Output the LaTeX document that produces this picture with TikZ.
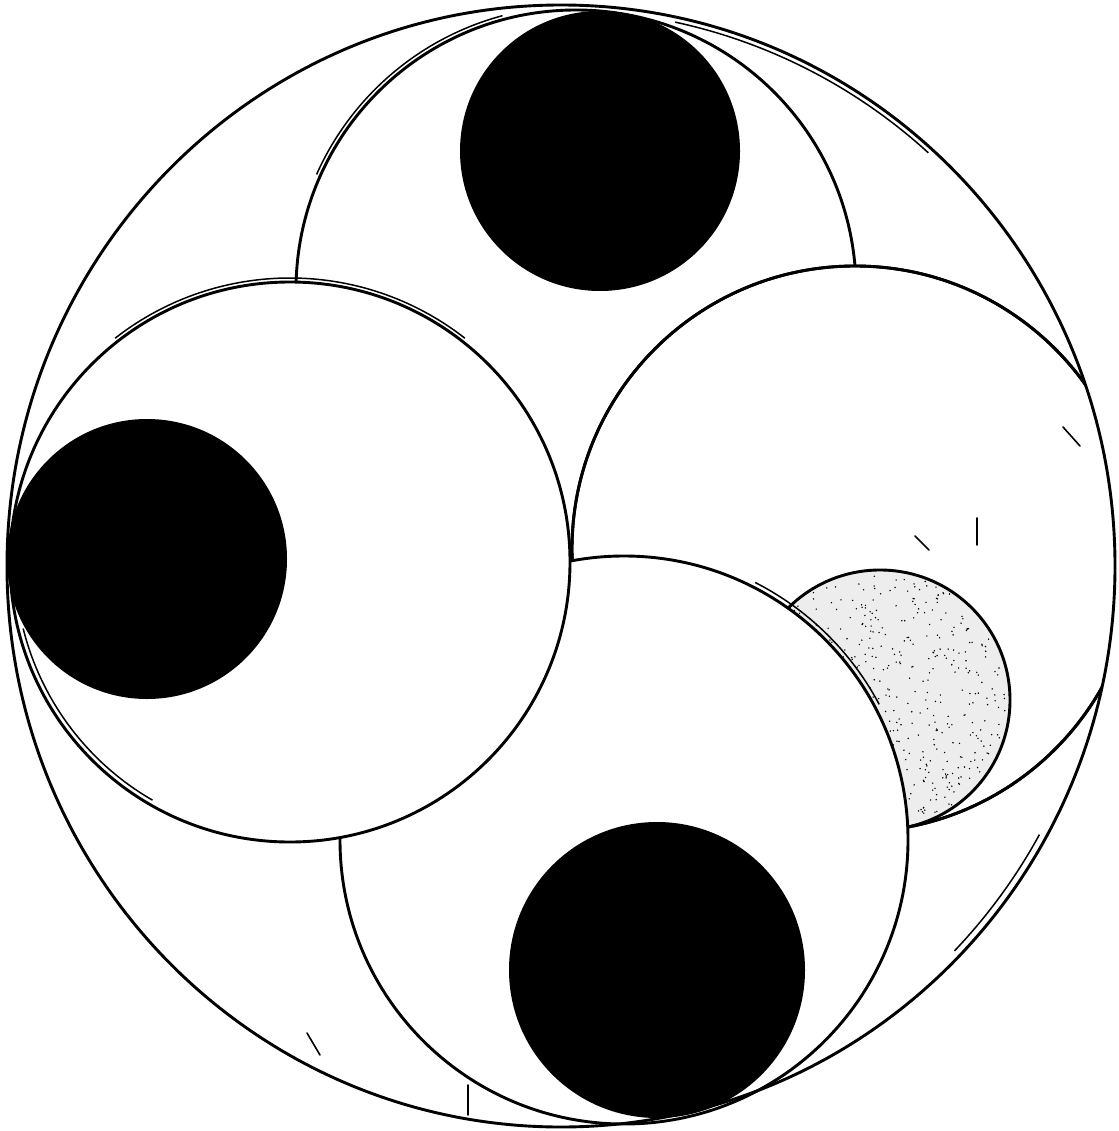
\documentclass[tikz,border=0pt]{standalone}
\tikzset{
  outline/.style={line width=2.9pt, draw=black},
  ring/.style={outline, fill=white},
  sketch/.style={line width=1.5pt, draw=black},
  speck/.style={line width=1.6pt, line cap=round, draw=black},
}
\begin{document}
\begin{tikzpicture}[x=1pt,y=-1pt]
\useasboundingbox (0,0) rectangle (1118,1131);
\fill[white] (0,0) rectangle (1118,1131);
\coordinate (O) at (561,566);
\coordinate (T) at (576,290);
\coordinate (L) at (290,562);
\coordinate (R) at (855,549);
\coordinate (B) at (624,840);
\coordinate (G) at (880,700);
\coordinate (DT) at (600,151);
\coordinate (DL) at (147,559);
\coordinate (DB) at (657,970);
% top circle
\path[ring] (T) circle (280);
\fill[black] (DT) circle (140);
% right circle with the grey disc
\begin{scope}
  \clip (O) ellipse [x radius=554, y radius=561];
  \path[ring] (R) circle (283);
  \begin{scope}
    \clip (R) circle (283);
    \fill[gray!14] (G) circle (130);
    \pgfmathsetseed{7}
    \foreach \i in {1,...,600}{
      \pgfmathsetmacro\ang{360*rnd}
      \pgfmathsetmacro\rad{127*sqrt(rnd)}
      \fill[black] (G) ++(\ang:\rad) circle (0.8);
    }
    \draw[outline] (G) circle (130);
  \end{scope}
  \draw[outline] (R) circle (283);
\end{scope}
% lower circle
\path[ring] (B) circle (284);
\fill[black] (DB) circle (148);
% left circle
\path[ring] (L) circle (280);
\fill[black] (DL) circle (140);
% outer circle
\draw[outline] (O) ellipse [x radius=554, y radius=561];
% sketchy doubled strokes
\draw[sketch] (L) ++(166:275) arc[start angle=166, end angle=120, radius=275];
\draw[sketch] (L) ++(232:284) arc[start angle=232, end angle=308, radius=284];
\draw[sketch] (T) ++(204:284) arc[start angle=204, end angle=255, radius=284];
\draw[sketch] (O) ++(-78:549 and 556) arc[start angle=-78, end angle=-48, x radius=549, y radius=556];
\draw[sketch] (O) ++(29:547 and 554) arc[start angle=29, end angle=44, x radius=547, y radius=554];
\draw[sketch] (B) ++(-63:289) arc[start angle=-63, end angle=-28, radius=289];
% stray marks
\draw[speck] (977,518) -- (977,545);
\draw[speck] (915,536) -- (929,550);
\draw[speck] (1063,427) -- (1080,446);
\draw[speck] (307,1033) -- (320,1055);
\draw[speck] (468,1085) -- (468,1115);
\draw[speck] (175,969) -- (187,980);
\end{tikzpicture}
\end{document}
